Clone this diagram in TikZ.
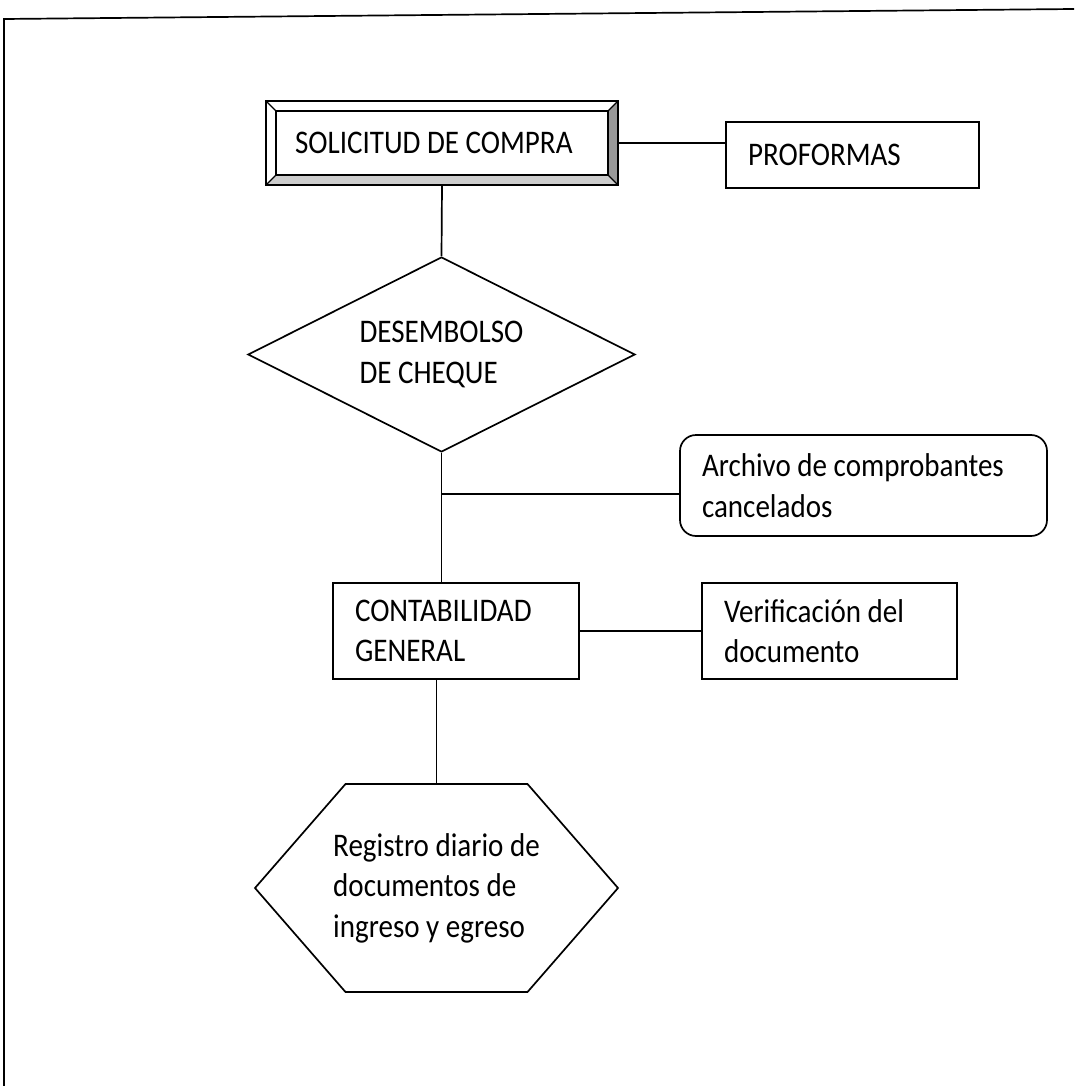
\documentclass[tikz,border=0pt]{standalone}
\usepackage{fontspec}
\setmainfont{Carlito}[FakeStretch=0.88]
\usetikzlibrary{shapes.geometric}
\definecolor{biseloscuro}{gray}{0.6}
\definecolor{biselclaro}{gray}{0.8}

\begin{document}
\begin{tikzpicture}[x=1pt, y=-1pt, line width=1.7pt,
  every node/.style={font=\fontsize{33}{40.5}\selectfont},
  caja/.style={draw, rectangle, align=flush left, inner xsep=22pt, inner ysep=0pt},
  bisel/.style={rectangle, align=flush left, inner xsep=29pt, inner ysep=0pt, outer sep=0pt},
  decision/.style={draw, diamond, aspect=2, align=left, inner sep=0pt},
  hexagono/.style={align=left, inner sep=0pt, outer sep=0pt}]
  \useasboundingbox (0,0) rectangle (1074,1086);
  \draw (4,1086) -- (4,19) -- (1074,9);

  \node[bisel, minimum width=352pt, minimum height=84pt, text width=294pt] (solicitud) at (442,143) {SOLICITUD DE COMPRA};
  \fill[biseloscuro] (solicitud.north east) -- (solicitud.south east) -- ([shift={(-10,-10)}]solicitud.south east) -- ([shift={(-10,10)}]solicitud.north east) -- cycle;
  \fill[biselclaro] (solicitud.south west) -- (solicitud.south east) -- ([shift={(-10,-10)}]solicitud.south east) -- ([shift={(10,-10)}]solicitud.south west) -- cycle;
  \draw (solicitud.north west) rectangle (solicitud.south east);
  \draw ([shift={(10,10)}]solicitud.north west) rectangle ([shift={(-10,-10)}]solicitud.south east);
  \foreach \esq/\dx/\dy in {north west/10/10, north east/-10/10, south east/-10/-10, south west/10/-10}
    \draw[line width=1.2pt] (solicitud.\esq) -- ([shift={(\dx,\dy)}]solicitud.\esq);

  \node[caja, minimum width=253pt, minimum height=66pt, text width=209pt] (proformas) at (852.5,155) {PROFORMAS};
  \node[decision, minimum width=387pt, minimum height=195pt] (desembolso) at (441.5,354.5) {DESEMBOLSO\\DE CHEQUE};
  \node[caja, rounded corners=16pt, minimum width=367pt, minimum height=101pt, text width=323pt] (archivo) at (863.5,485.5) {Archivo de comprobantes\\cancelados};
  \node[caja, minimum width=246pt, minimum height=96pt, text width=202pt] (contabilidad) at (456,631) {CONTABILIDAD\\GENERAL};
  \node[caja, minimum width=255pt, minimum height=96pt, text width=211pt] (verificacion) at (829.5,631) {Verificación del\\documento};
  \node[hexagono, minimum width=363pt, minimum height=208pt] (registro) at (436.5,888) {Registro diario de\\documentos de\\ingreso y egreso};
  \draw (registro.west) -- ([shift={(-91,0)}]registro.north) -- ([shift={(91,0)}]registro.north)
    -- (registro.east) -- ([shift={(91,0)}]registro.south) -- ([shift={(-91,0)}]registro.south) -- cycle;

  \coordinate (rama) at (441.5,494);
  \draw (solicitud.east) -- (solicitud.east -| proformas.west);
  \draw (solicitud.south) -- (desembolso.north);
  \draw (desembolso.south) -- (desembolso.south |- contabilidad.north);
  \draw (rama) -- (rama -| archivo.west);
  \draw (contabilidad.east) -- (verificacion.west);
  \draw (registro.north |- contabilidad.south) -- (registro.north);
\end{tikzpicture}
\end{document}
